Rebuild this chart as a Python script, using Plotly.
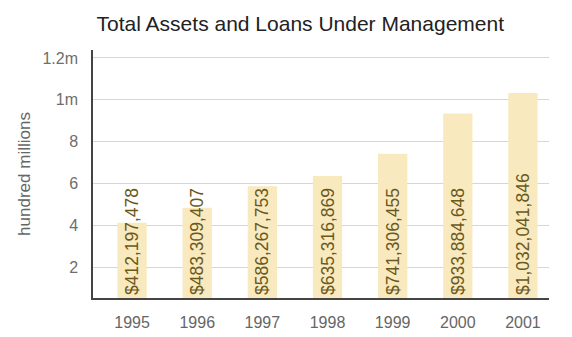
import plotly.graph_objects as go

# Year-end totals, in dollars
years = ["1995", "1996", "1997", "1998", "1999", "2000", "2001"]
totals = [412197478, 483309407, 586267753, 635316869, 741306455, 933884648, 1032041846]
labels = ["$412,197,478", "$483,309,407", "$586,267,753", "$635,316,869",
          "$741,306,455", "$933,884,648", "$1,032,041,846"]

# Y axis is in hundred millions
tick_vals = [2, 4, 6, 8, 10, 12]
tick_text = ["2", "4", "6", "8", "1m", "1.2m"]

AXIS_FLOOR = 0.52  # bottom of the value axis, in hundred millions

hundred_millions = [v / 1e8 for v in totals]
# bars rise from the axis floor up to each total
bar_heights = [h - AXIS_FLOOR for h in hundred_millions]

fig = go.Figure(
    go.Bar(
        x=years,
        y=bar_heights,
        base=AXIS_FLOOR,
        text=labels,
        textposition="inside",
        insidetextanchor="start",
        textangle=-90,
        constraintext="none",
        cliponaxis=False,
        textfont=dict(family="Liberation Sans, Arial", size=17.5, color="#6a591b"),
        marker=dict(color="#f9e9bf", line=dict(width=0)),
        width=0.45,
        hoverinfo="skip",
    )
)

fig.update_layout(
    width=572,
    height=337,
    margin=dict(l=93, r=23, t=50, b=39),
    paper_bgcolor="white",
    plot_bgcolor="white",
    showlegend=False,
    font=dict(family="Liberation Sans, Arial", color="#666666"),
    title=dict(
        text="Total Assets and Loans Under Management",
        x=0.525,
        xanchor="center",
        y=0.93,
        yanchor="middle",
        automargin=False,
        font=dict(size=21, color="#222222"),
    ),
    xaxis=dict(
        type="category",
        range=[-0.6, 6.4],
        automargin=False,
        showgrid=False,
        showline=True,
        linecolor="#444444",
        linewidth=2,
        ticks="",
        tickfont=dict(size=16, color="#666666"),
        ticklabelstandoff=9,
    ),
    yaxis=dict(
        range=[AXIS_FLOOR, 12.38],
        automargin=False,
        tickvals=tick_vals,
        ticktext=tick_text,
        showgrid=True,
        gridcolor="#e4da9e",
        gridwidth=1,
        zeroline=False,
        showline=True,
        linecolor="#444444",
        linewidth=1.5,
        ticks="",
        tickfont=dict(size=16, color="#6e6e6e"),
        ticklabelstandoff=10,
        title=dict(text="hundred millions", font=dict(size=17, color="#666666"), standoff=8),
    ),
)

fig.write_html("out.html")
